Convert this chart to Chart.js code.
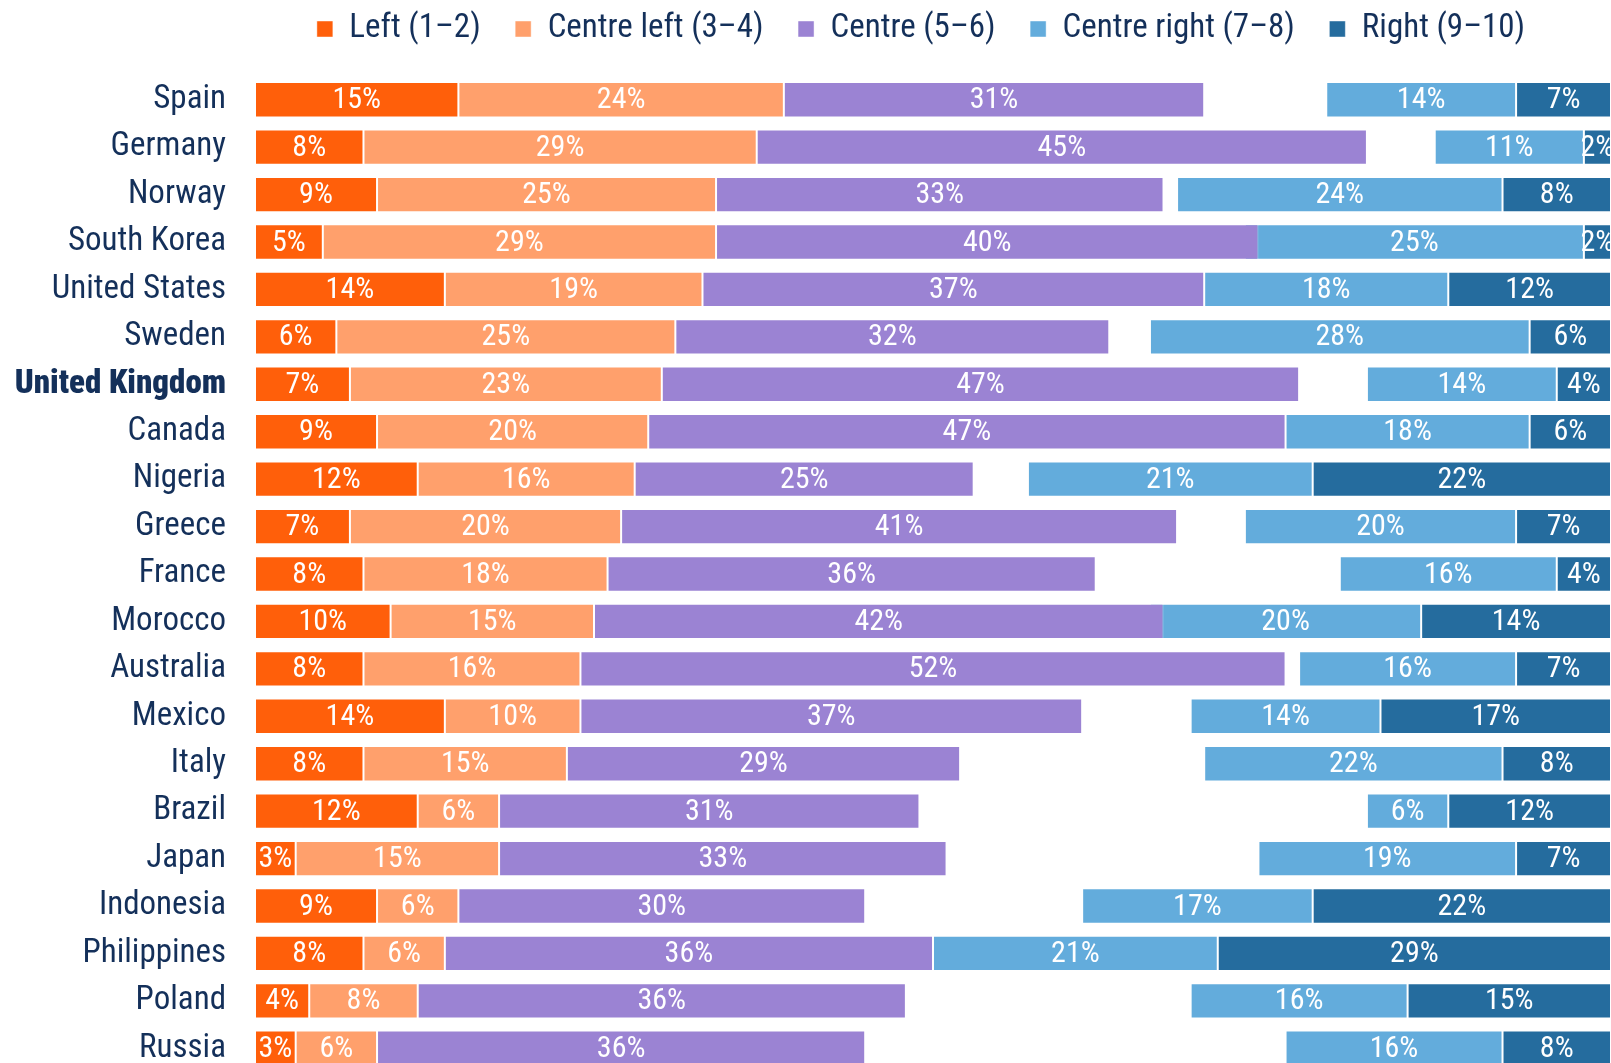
<!DOCTYPE html>
<html>
<head>
<meta charset="utf-8">
<script src="https://cdn.jsdelivr.net/npm/chart.js@4/dist/chart.umd.min.js"></script>
<style>
  html, body { margin: 0; padding: 0; background: #ffffff; overflow: hidden; }
  #wrap { position: absolute; left: 0; top: 0; width: 1611px; height: 1072px; }
</style>
</head>
<body>
<div id="wrap"><canvas id="chart"></canvas></div>
<script>
// Self-placement on the left–right scale, share of respondents (%)
const countries = [
  'Spain', 'Germany', 'Norway', 'South Korea', 'United States', 'Sweden',
  'United Kingdom', 'Canada', 'Nigeria', 'Greece', 'France', 'Morocco',
  'Australia', 'Mexico', 'Italy', 'Brazil', 'Japan', 'Indonesia',
  'Philippines', 'Poland', 'Russia'
];
const seriesLabels = ['Left (1–2)', 'Centre left (3–4)', 'Centre (5–6)', 'Centre right (7–8)', 'Right (9–10)'];

const leftShare        = [15, 8, 9, 5, 14, 6, 7, 9, 12, 7, 8, 10, 8, 14, 8, 12, 3, 9, 8, 4, 3];
const centreLeftShare  = [24, 29, 25, 29, 19, 25, 23, 20, 16, 20, 18, 15, 16, 10, 15, 6, 15, 6, 6, 8, 6];
const centreShare      = [31, 45, 33, 40, 37, 32, 47, 47, 25, 41, 36, 42, 52, 37, 29, 31, 33, 30, 36, 36, 36];
const centreRightShare = [14, 11, 24, 25, 18, 28, 14, 18, 21, 20, 16, 20, 16, 14, 22, 6, 19, 17, 21, 16, 16];
const rightShare       = [7, 2, 8, 2, 12, 6, 4, 6, 22, 7, 4, 14, 7, 17, 8, 12, 7, 22, 29, 15, 8];

const seriesColors = ['#ff5f0a', '#ffa06c', '#9b83d3', '#63acdc', '#256c9e'];
const navy = '#14305a';
const FONT = "'Roboto Condensed', 'DejaVu Sans Condensed', sans-serif";

// Left-leaning groups stack from 0, right-leaning groups stack back from 100
const leftSpans = leftShare.map(v => [0, v]);
const centreLeftSpans = centreLeftShare.map((v, i) => [leftShare[i], leftShare[i] + v]);
const centreSpans = centreShare.map((v, i) => {
  const s = leftShare[i] + centreLeftShare[i];
  return [s, s + v];
});
const centreRightSpans = centreRightShare.map((v, i) => [100 - rightShare[i] - v, 100 - rightShare[i]]);
const rightSpans = rightShare.map(v => [100 - v, 100]);

const seriesValues = [leftShare, centreLeftShare, centreShare, centreRightShare, rightShare];
const seriesSpans = [leftSpans, centreLeftSpans, centreSpans, centreRightSpans, rightSpans];

// Percentage written in the middle of each segment
const segmentLabels = {
  id: 'segmentLabels',
  afterDatasetsDraw(chart) {
    const ctx = chart.ctx;
    ctx.save();
    ctx.font = "30px " + FONT;
    ctx.fillStyle = '#ffffff';
    ctx.textAlign = 'center';
    ctx.textBaseline = 'middle';
    chart.data.datasets.forEach((ds, i) => {
      const meta = chart.getDatasetMeta(i);
      meta.data.forEach((bar, j) => {
        const x = (bar.x + bar.base) / 2;
        ctx.fillText(seriesValues[i][j] + '%', x, bar.y + 1);
      });
    });
    ctx.restore();
  }
};

// Legend band height and placement above the bars
const legendPlacement = {
  id: 'legendPlacement',
  beforeInit(chart) {
    const fit = chart.legend.fit;
    chart.legend.fit = function () {
      fit.call(this);
      this.height = 76;
    };
  },
  afterLayout(chart) {
    const lg = chart.legend;
    lg.top = -22;
    lg.bottom = lg.top + lg.height;
    lg.left = 231;
    lg.right = 1611;
  }
};

new Chart(document.getElementById('chart'), {
  type: 'bar',
  data: {
    labels: countries,
    datasets: seriesLabels.map((label, i) => ({
      label,
      data: seriesSpans[i],
      backgroundColor: seriesColors[i],
      borderColor: 'rgba(255,255,255,0.45)',
      borderWidth: 1,
      borderSkipped: false,
      grouped: false,
      categoryPercentage: 1,
      barPercentage: 0.746
    }))
  },
  options: {
    indexAxis: 'y',
    responsive: true,
    maintainAspectRatio: false,
    animation: false,
    layout: { padding: 0 },
    scales: {
      x: {
        display: false,
        min: 0,
        max: 100
      },
      y: {
        grid: { display: false, drawTicks: false },
        border: { display: false },
        afterFit(scale) {
          scale.width = 255;
          scale.paddingTop = 0;
          scale.paddingBottom = 0;
        },
        ticks: {
          padding: 29,
          color: navy,
          font: (c) => ({
            family: FONT,
            size: 33,
            weight: c.tick && c.tick.label === 'United Kingdom' ? '900' : 'normal'
          })
        }
      }
    },
    plugins: {
      tooltip: { enabled: false },
      legend: {
        position: 'top',
        labels: {
          boxWidth: 16,
          boxHeight: 16,
          padding: 34.5,
          color: navy,
          font: { family: FONT, size: 33 }
        }
      }
    }
  },
  plugins: [segmentLabels, legendPlacement]
});
</script>
</body>
</html>
